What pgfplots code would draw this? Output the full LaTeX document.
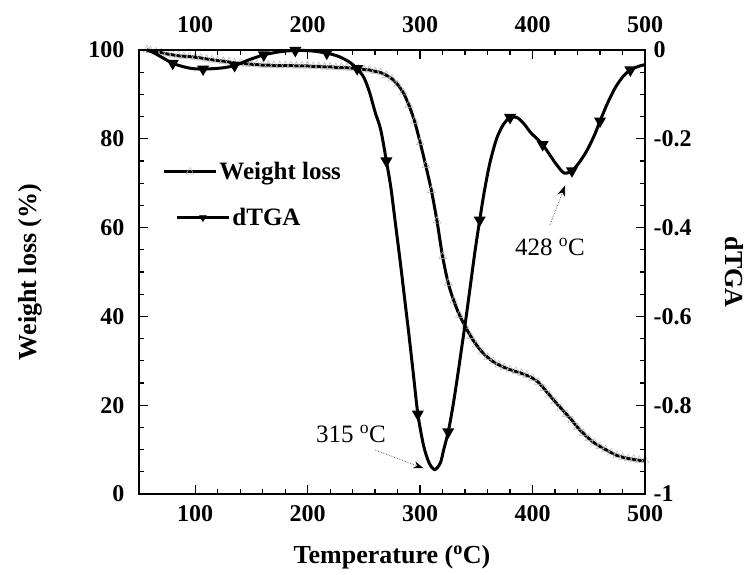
\documentclass[border=0pt]{standalone}
\usepackage{fontspec}
\setmainfont{Liberation Serif}
\usepackage{pgfplots}
\usepackage{pgfplotstable}
\pgfplotsset{compat=1.18}
\usetikzlibrary{arrows.meta}

\pgfplotstableread{
T W
57 100.0
60 99.9
65 99.6
70 99.4
75 99.1
80 98.9
85 98.7
90 98.6
95 98.5
100 98.4
105 98.2
110 98.0
115 97.8
120 97.6
125 97.5
130 97.3
135 97.1
140 97.0
145 96.9
150 96.8
155 96.7
160 96.6
165 96.6
170 96.5
175 96.5
180 96.5
185 96.5
190 96.4
195 96.4
200 96.4
205 96.3
210 96.3
215 96.2
220 96.2
225 96.1
230 96.1
235 96.0
240 95.9
245 95.8
250 95.6
255 95.5
260 95.2
265 94.9
270 94.3
275 93.5
280 92.2
285 90.4
290 87.6
295 84.0
300 79.2
305 74.0
310 68.4
315 61.5
320 53.5
325 47.5
330 43.5
335 40.3
340 37.8
345 35.5
350 33.6
355 32.0
360 30.8
365 29.8
370 29.1
375 28.5
380 28.0
385 27.6
390 27.2
395 26.7
400 26.1
405 25.2
410 23.8
415 22.3
420 20.8
425 19.4
430 18.0
435 16.6
440 15.0
445 13.7
450 12.5
455 11.5
460 10.7
465 10.0
470 9.3
475 8.7
480 8.3
485 8.0
490 7.8
495 7.6
500 7.5
}\weight

\pgfplotstableread{
T D
57 0.000
63 -0.006
70 -0.016
80 -0.030
90 -0.038
98 -0.042
107 -0.043
116 -0.042
125 -0.040
135 -0.035
148 -0.022
161 -0.011
175 -0.004
189 -0.001
203 -0.002
217 -0.007
228 -0.015
237 -0.027
244 -0.042
250 -0.062
255 -0.095
260 -0.140
265 -0.180
270 -0.250
274 -0.310
278 -0.390
282 -0.470
286 -0.555
290 -0.640
294 -0.730
298 -0.820
303 -0.890
308 -0.930
313 -0.945
318 -0.930
321 -0.900
325 -0.860
329 -0.805
333 -0.740
337 -0.670
341 -0.600
345 -0.525
349 -0.450
353 -0.383
357 -0.320
362 -0.255
368 -0.200
374 -0.168
380 -0.152
386 -0.152
392 -0.165
398 -0.185
404 -0.200
409 -0.213
415 -0.235
421 -0.257
428 -0.277
435 -0.272
441 -0.255
448 -0.228
455 -0.192
460 -0.160
467 -0.118
474 -0.083
481 -0.058
487 -0.045
494 -0.037
500 -0.033
}\dtga

\pgfplotsset{
 base/.style={
  scale only axis, width=506pt, height=444pt, at={(0,0)}, anchor=south west,
  xmin=50, xmax=500, xtick={100,200,300,400,500}, minor x tick num=4,
  tick align=inside, major tick length=9pt, minor tick length=5pt,
  every tick/.style={black, line width=1.3pt},
  axis line style={line width=1.6pt, -},
  /pgf/number format/assume math mode=true,
  tick label style={font=\fontsize{24}{28}\selectfont\bfseries},
  label style={font=\fontsize{26}{31}\selectfont\bfseries},
  clip=false,
 }
}

\begin{document}
\begin{tikzpicture}
\useasboundingbox (-139pt,-81pt) rectangle (613pt,494pt);
\begin{axis}[base, ymin=0, ymax=100, ytick={0,20,40,60,80,100}, minor y tick num=3,
  xticklabel style={yshift=-8pt}, yticklabel style={xshift=-11pt},
  xlabel={Temperature (\textsuperscript{o}C)}, ylabel={Weight loss (\%)},
  xlabel style={at={(axis description cs:0.5,-0.142)}, anchor=center},
  ylabel style={at={(axis description cs:-0.215,0.5)}, anchor=center},
  ]
\addplot[only marks, mark=triangle, mark size=4.5pt, mark options={draw=gray!55, line width=0.5pt, fill=none}] table[x=T,y=W]{\weight};
\addplot[smooth, line width=3pt, black] table[x=T,y=W]{\weight};
\node[font=\fontsize{25}{30}\selectfont] at (axis cs:238.6,13.5) {315 \textsuperscript{o}C};
\draw[densely dotted, gray!70!black, line width=0.7pt, -{Stealth[length=10pt,width=7pt,black]}] (axis cs:260,9.9) -- (axis cs:303,5.8);
\node[font=\fontsize{25}{30}\selectfont] at (axis cs:415.5,55.7) {428 \textsuperscript{o}C};
\draw[densely dotted, gray!70!black, line width=0.7pt, -{Stealth[length=11pt,width=8pt,black]}] (axis cs:415.5,60.6) -- (axis cs:429,69.5);
\end{axis}
\begin{axis}[base, ymin=-1, ymax=0, ytick={-1,-0.8,-0.6,-0.4,-0.2,0}, yticklabels={-1,-0.8,-0.6,-0.4,-0.2,0},
  minor y tick num=3, axis x line*=top, axis y line*=right,
  xticklabel style={yshift=14pt}, yticklabel style={xshift=5pt},
  ylabel={dTGA}, ylabel style={at={(axis description cs:1.176,0.5)}, anchor=center, rotate=180},
  legend style={draw=none, fill=none, at={(axis description cs:0.04,0.674)}, anchor=west,
    font=\fontsize{25}{30}\selectfont\bfseries, row sep=23pt},
  legend cell align=left,
  ]
\addlegendimage{legend image code/.code={\draw[line width=3pt, black] (0pt,0pt) -- (52pt,0pt);
  \draw[gray!55, line width=0.5pt, mark size=4.5pt] plot[mark=triangle] coordinates {(26pt,0pt)};}}
\addlegendentry{\hspace*{-13pt}Weight loss}
\addlegendimage{legend image code/.code={\path (0pt,0pt); \draw[line width=3pt, black] (13pt,0pt) -- (65pt,0pt);
  \draw[black, fill=black, mark size=4pt] plot[mark=triangle*, mark options={rotate=180}] coordinates {(39pt,0pt)};}}
\addlegendentry{dTGA}
\addplot[forget plot, smooth, line width=3pt, black, mark=triangle*, mark size=4pt,
  mark indices={4,7,10,12,14,16,19,24,31,37,44,49,54,58,62,66},
  mark options={solid, fill=black, rotate=180}] table[x=T,y=D]{\dtga};
\end{axis}
\end{tikzpicture}
\end{document}
